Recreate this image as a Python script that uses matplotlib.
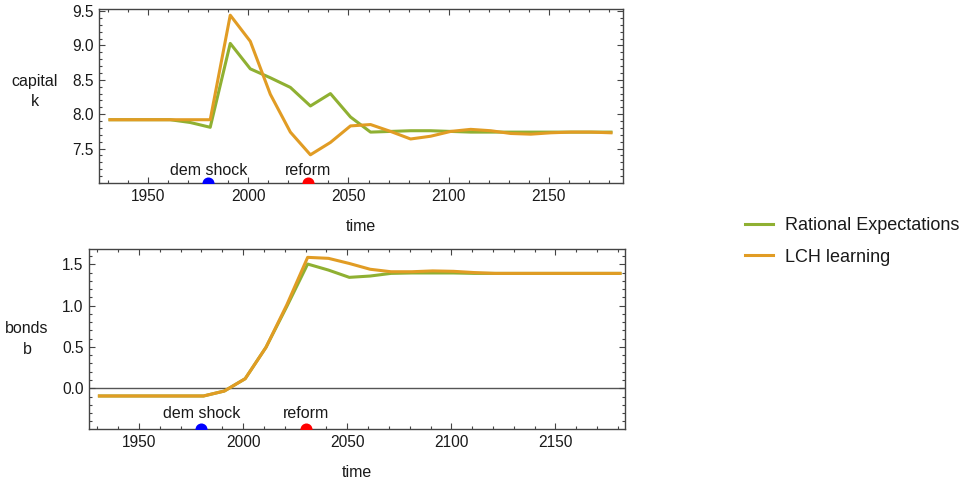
import matplotlib
matplotlib.use("Agg")
import matplotlib.pyplot as plt
from matplotlib.ticker import MultipleLocator, FixedLocator
from matplotlib.lines import Line2D

plt.rcParams['font.family'] = ['Liberation Sans', 'DejaVu Sans']

# Simulation periods (one generation every 10 years)
years = [1931, 1941, 1951, 1961, 1971, 1981, 1991, 2001, 2011, 2021, 2031, 2041, 2051,
         2061, 2071, 2081, 2091, 2101, 2111, 2121, 2131, 2141, 2151, 2161, 2171, 2181]

# Capital stock k
capital_re = [7.92, 7.92, 7.92, 7.92, 7.88, 7.81, 9.03, 8.66, 8.53, 8.39, 8.12, 8.30, 7.96,
              7.74, 7.75, 7.76, 7.76, 7.75, 7.74, 7.74, 7.74, 7.74, 7.74, 7.74, 7.74, 7.74]
capital_lch = [7.92, 7.92, 7.92, 7.92, 7.92, 7.92, 9.44, 9.06, 8.29, 7.74, 7.41, 7.59, 7.83,
               7.85, 7.75, 7.64, 7.68, 7.75, 7.78, 7.76, 7.72, 7.71, 7.73, 7.74, 7.74, 7.73]

# Government bonds b
bonds_re = [-0.093, -0.093, -0.093, -0.093, -0.093, -0.093, -0.033, 0.116, 0.496, 0.99, 1.503,
            1.43, 1.342, 1.358, 1.39, 1.395, 1.395, 1.395, 1.39, 1.39, 1.39, 1.39, 1.39, 1.39,
            1.39, 1.39]
bonds_lch = [-0.093, -0.093, -0.093, -0.093, -0.093, -0.093, -0.033, 0.116, 0.496, 1.01, 1.584,
             1.572, 1.51, 1.44, 1.41, 1.41, 1.42, 1.415, 1.40, 1.39, 1.39, 1.39, 1.39, 1.39,
             1.39, 1.39]

series_names = ["Rational Expectations", "LCH learning"]
series_colors = ["#8FB032", "#E19C24"]

event_years = [1980, 2030]
event_names = ["dem shock", "reform"]
event_colors = ["#0000FF", "#FF0000"]

frame_color = "#444444"
text_color = "#1a1a1a"

fig = plt.figure(figsize=(9.7, 4.83), dpi=100)
W, H = 970, 483


def px_axes(left, top, right, bottom):
    return fig.add_axes([left / W, 1 - bottom / H, (right - left) / W, (bottom - top) / H])


ax1 = px_axes(99, 9, 623, 183)
ax2 = px_axes(89, 249, 625, 429.3)


def style(ax, ymajor, yminor):
    for s in ax.spines.values():
        s.set_color(frame_color)
        s.set_linewidth(1.0)
    ax.xaxis.set_major_locator(MultipleLocator(50))
    ax.xaxis.set_minor_locator(MultipleLocator(10))
    ax.yaxis.set_major_locator(FixedLocator(ymajor))
    ax.yaxis.set_minor_locator(MultipleLocator(yminor))
    ax.tick_params(which='both', direction='in', top=True, right=True,
                   color=frame_color, labelcolor=text_color, labelsize=11.2, width=0.8)
    ax.tick_params(which='major', length=4.0, pad=4)
    ax.tick_params(which='minor', length=2.2)
    ax.set_xlabel("time", fontsize=11.5, color=text_color, labelpad=11)


def draw_events(ax, label_y):
    ybot = ax.get_ylim()[0]
    for yr, name, col in zip(event_years, event_names, event_colors):
        ax.scatter([yr], [ybot], s=75, color=col, zorder=5, clip_on=True, linewidths=0)
        ax.text(yr, label_y, name, ha='center', va='center', fontsize=11.5, color=text_color)


# Top panel: capital
for vals, col in zip([capital_re, capital_lch], series_colors):
    ax1.plot(years, vals, color=col, lw=2.2)
ax1.set_xlim(1925.5, 2187)
ax1.set_ylim(7.0, 9.53)
style(ax1, [7.5, 8.0, 8.5, 9.0, 9.5], 0.1)
draw_events(ax1, 7.18)
fig.text(35 / W, 1 - 91.5 / H, "capital\nk", ha='center', va='center', fontsize=11.5,
         color=text_color, linespacing=1.35)

# Bottom panel: bonds
ax2.axhline(0, color="#555555", lw=1.0, zorder=1)
for vals, col in zip([bonds_re, bonds_lch], series_colors):
    ax2.plot(years, vals, color=col, lw=2.2, zorder=3)
ax2.set_xlim(1926, 2183.4)
ax2.set_ylim(-0.496, 1.685)
style(ax2, [0.0, 0.5, 1.0, 1.5], 0.1)
ax2.yaxis.set_major_formatter(plt.FuncFormatter(lambda v, p: f"{v:.1f}"))
draw_events(ax2, -0.30)
fig.text(27 / W, 1 - 339 / H, "bonds\nb", ha='center', va='center', fontsize=11.5,
         color=text_color, linespacing=1.5)

# Legend
handles = [Line2D([], [], color=c, lw=2.2) for c in series_colors]
fig.legend(handles, series_names, loc='center left', bbox_to_anchor=(745 / W, 1 - 241.5 / H),
           frameon=False, fontsize=13, handlelength=1.55, handletextpad=0.65,
           borderpad=0, borderaxespad=0, labelspacing=0.8, labelcolor=text_color)

fig.savefig("out.png", dpi=100)
